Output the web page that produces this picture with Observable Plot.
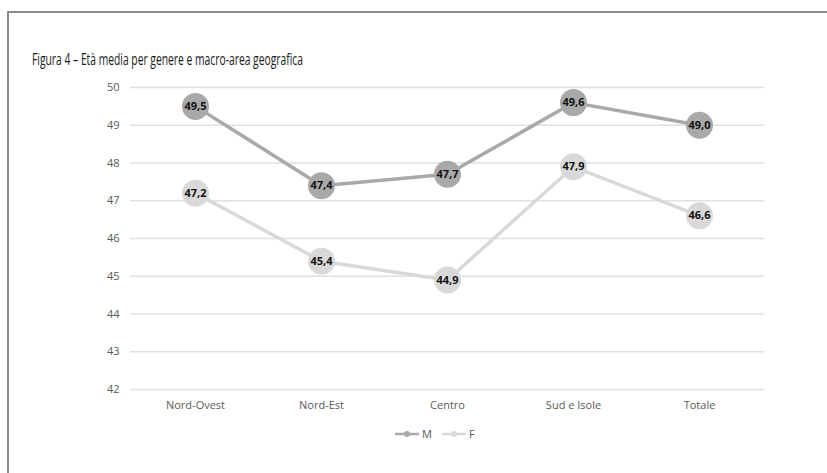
<!DOCTYPE html>
<html>
<head>
<meta charset="utf-8">
<script src="https://cdn.jsdelivr.net/npm/d3@7"></script>
<script src="https://cdn.jsdelivr.net/npm/@observablehq/plot@0.6"></script>
<style>
  html, body { margin: 0; padding: 0; background: #fff; }
  body { width: 827px; height: 473px; position: relative; overflow: hidden; font-family: "Open Sans", sans-serif; }
  #frame { position: absolute; left: 7px; top: 11px; right: -10px; bottom: -10px; border-top: 2px solid #8c8c8c; border-left: 2px solid #8c8c8c; }
  #title { position: absolute; left: 32px; top: 47px; font-size: 17px; font-weight: 500; color: #1a1a1a; white-space: nowrap; transform-origin: 0 0; }
  #chart { position: absolute; left: 0; top: 70px; }
  #legend { position: absolute; left: 395px; top: 426px; display: flex; align-items: center; font-size: 11px; color: #595959; }
  #legend .item { display: flex; align-items: center; margin-right: 10px; }
  #legend svg { margin-right: 3px; }
</style>
</head>
<body>
<div id="frame"></div>
<div id="title">Figura 4 – Età media per genere e macro-area geografica</div>
<div id="chart"></div>
<div id="legend"></div>
<script>
// Average age by gender and macro-area
const areas = ["Nord-Ovest", "Nord-Est", "Centro", "Sud e Isole", "Totale"];
const maschi = [49.5, 47.4, 47.7, 49.6, 49.0];
const femmine = [47.2, 45.4, 44.9, 47.9, 46.6];
const yTicks = [42, 43, 44, 45, 46, 47, 48, 49, 50];
const seriesNames = ["M", "F"];
const seriesColors = {M: "#a9a9a9", F: "#d9d9d9"};

const rows = [
  ...areas.map((a, i) => ({area: a, serie: "M", value: maschi[i]})),
  ...areas.map((a, i) => ({area: a, serie: "F", value: femmine[i]}))
];
const fmt = v => v.toFixed(1).replace(".", ",");

const marks = [
  Plot.gridY(yTicks, {stroke: "#e0e0e0", strokeOpacity: 1, strokeWidth: 1.5}),
  Plot.axisY(yTicks, {tickSize: 0, tickPadding: 11, fontSize: 11, fill: "#595959", label: null}),
  Plot.axisX({tickSize: 0, tickPadding: 12, fontSize: 11, fill: "#595959", label: null})
];
for (const s of ["F", "M"]) {
  const d = rows.filter(r => r.serie === s);
  marks.push(
    Plot.line(d, {x: "area", y: "value", stroke: seriesColors[s], strokeWidth: 3.5}),
    Plot.dot(d, {x: "area", y: "value", r: 13.5, fill: seriesColors[s], stroke: null}),
    Plot.text(d, {x: "area", y: "value", text: r => fmt(r.value), fontSize: 11, fontWeight: "bold", fill: "#111"})
  );
}

const chart = Plot.plot({
  width: 827,
  height: 350,
  marginLeft: 130,
  marginRight: 63,
  marginTop: 17,
  marginBottom: 31,
  style: {fontFamily: "Open Sans, sans-serif", fontSize: "11px", background: "transparent"},
  x: {type: "point", domain: areas, padding: 0.5, label: null},
  y: {domain: [42, 50], label: null},
  marks
});
document.getElementById("chart").appendChild(chart);

// Narrow the title to its typeset width
const title = document.getElementById("title");
const tw = title.getBoundingClientRect().width;
title.style.transform = `scaleX(${271 / tw})`;

// Legend
const legend = document.getElementById("legend");
for (const s of seriesNames) {
  const item = document.createElement("div");
  item.className = "item";
  item.innerHTML = `<svg width="24" height="10"><line x1="0" x2="24" y1="5" y2="5" stroke="${seriesColors[s]}" stroke-width="2.5"/><circle cx="12" cy="5" r="3" fill="${seriesColors[s]}"/></svg><span>${s}</span>`;
  legend.appendChild(item);
}
</script>
</body>
</html>
